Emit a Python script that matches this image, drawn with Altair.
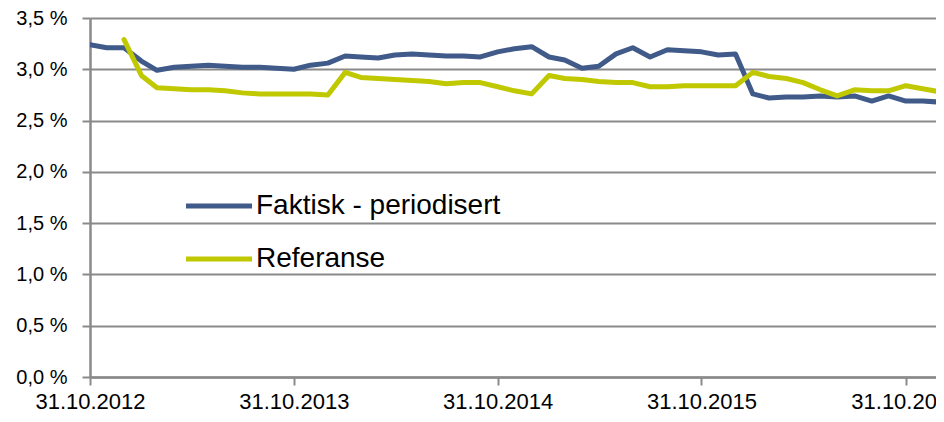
import calendar
import altair as alt
import pandas as pd

# Month-end dates, Oct 2012 .. Dec 2016
months = []
y, m = 2012, 10
for _ in range(51):
    months.append(f"{y:04d}-{m:02d}-{calendar.monthrange(y, m)[1]:02d}")
    m += 1
    if m > 12:
        m, y = 1, y + 1

series_names = ["Faktisk - periodisert", "Referanse"]

faktisk = [3.24, 3.21, 3.21, 3.08, 2.99, 3.02, 3.03, 3.04, 3.03, 3.02,
           3.02, 3.01, 3.00, 3.04, 3.06, 3.13, 3.12, 3.11, 3.14, 3.15,
           3.14, 3.13, 3.13, 3.12, 3.17, 3.20, 3.22, 3.12, 3.09, 3.01,
           3.03, 3.15, 3.21, 3.12, 3.19, 3.18, 3.17, 3.14, 3.15, 2.76,
           2.72, 2.73, 2.73, 2.74, 2.73, 2.74, 2.69, 2.74, 2.69, 2.69,
           2.68]

referanse = [None, None, 3.29, 2.94, 2.82, 2.81, 2.80, 2.80, 2.79, 2.77,
             2.76, 2.76, 2.76, 2.76, 2.75, 2.97, 2.92, 2.91, 2.90, 2.89,
             2.88, 2.86, 2.87, 2.87, 2.83, 2.79, 2.76, 2.94, 2.91, 2.90,
             2.88, 2.87, 2.87, 2.83, 2.83, 2.84, 2.84, 2.84, 2.84, 2.97,
             2.93, 2.91, 2.87, 2.80, 2.74, 2.80, 2.79, 2.79, 2.84, 2.81,
             2.78]

y_ticks = [0, 0.5, 1.0, 1.5, 2.0, 2.5, 3.0, 3.5]
x_tick_dates = ["2012-10-31", "2013-10-31", "2014-10-31", "2015-10-31", "2016-10-31"]
# the view is cropped on the right, as in the reference
x_domain = ["2012-10-31", "2016-12-24"]

rows = []
for d, v in zip(months, faktisk):
    rows.append({"dato": d, "verdi": v, "serie": series_names[0]})
for d, v in zip(months, referanse):
    if v is not None:
        rows.append({"dato": d, "verdi": v, "serie": series_names[1]})
df = pd.DataFrame(rows)


def ms(s):
    return int(pd.Timestamp(s, tz="UTC").value // 10**6)


FONT = "Liberation Sans"
GRID = "#8a8a8a"

chart = alt.Chart(df).mark_line(
    strokeWidth=5, strokeCap="round", strokeJoin="round", clip=True
).encode(
    x=alt.X(
        "dato:T",
        scale=alt.Scale(type="utc", domain=[ms(d) for d in x_domain], nice=False),
        axis=alt.Axis(
            title=None,
            values=[ms(d) for d in x_tick_dates],
            format="%d.%m.%Y",
            grid=False,
            domainColor=GRID,
            domainWidth=2.5,
            tickColor=GRID,
            tickWidth=2,
            tickSize=8,
            labelPadding=6,
            labelFont=FONT,
            labelFontSize=22,
            labelColor="#000000",
            labelFlush=False,
            labelOverlap=False,
        ),
    ),
    y=alt.Y(
        "verdi:Q",
        scale=alt.Scale(domain=[0, 3.5], nice=False, zero=True),
        axis=alt.Axis(
            title=None,
            values=y_ticks,
            labelExpr="replace(format(datum.value, '.1f'), '.', ',') + ' %'",
            grid=True,
            gridColor=GRID,
            gridWidth=2,
            domainColor=GRID,
            domainWidth=2.5,
            tickColor=GRID,
            tickWidth=2,
            tickSize=8,
            labelPadding=15,
            labelFont=FONT,
            labelFontSize=20,
            labelColor="#000000",
        ),
    ),
    color=alt.Color(
        "serie:N",
        scale=alt.Scale(domain=series_names, range=["#405a89", "#c0c800"]),
        sort=series_names,
        legend=alt.Legend(
            title=None,
            orient="none",
            legendX=110,
            legendY=169,
            padding=0,
            symbolType="M-2,0H2",
            symbolSize=1089,
            symbolStrokeWidth=5,
            rowPadding=20,
            labelOffset=18,
            labelFont=FONT,
            labelFontSize=28,
            labelColor="#000000",
            labelLimit=400,
        ),
    ),
).properties(
    width=846,
    height=359,
    autosize=alt.AutoSizeParams(type="none"),
    padding={"left": 82, "top": 10, "right": 0, "bottom": 37},
).configure_view(strokeWidth=0)

chart.save("out.html", embed_options={"renderer": "svg", "actions": False})
